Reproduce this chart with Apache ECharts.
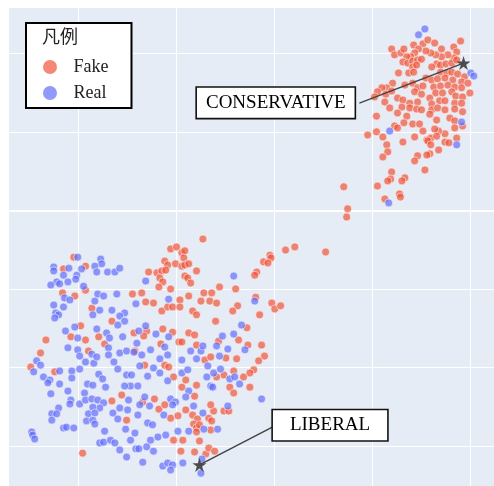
<!DOCTYPE html>
<html>
<head>
<meta charset="utf-8">
<script src="https://cdn.jsdelivr.net/npm/echarts@6/dist/echarts.min.js"></script>
<style>
  html, body { margin: 0; padding: 0; background: #fff; }
  #chart { width: 494px; height: 486px; }
</style>
</head>
<body>
<div id="chart"></div>
<script>
// 2-D embedding of news articles, coloured by label
const fakePoints = [
  [84.0,41.1],[84.6,39.6],[85.9,40.1],[86.5,41.1],[88.5,42.1],[90.4,42.4],[91.4,43.4],[92.8,42.6],[94.2,41.1],[96.7,41.6],
  [98.1,43.1],[97.3,40.3],[96.7,38.8],[95.5,39.6],[94.2,39.1],[93.0,39.6],[92.0,40.1],[91.0,40.6],[89.5,41.1],[88.7,40.1],
  [87.9,39.1],[87.1,39.1],[86.3,37.8],[87.3,37.5],[88.3,38.0],[89.3,38.3],[90.1,38.5],[88.3,36.5],[89.1,37.0],[87.5,35.0],
  [88.5,35.2],[85.4,35.0],[93.2,37.3],[94.0,37.0],[95.1,37.3],[96.3,37.5],[97.3,38.3],[92.2,36.5],[94.0,35.2],[95.3,35.0],
  [96.3,35.2],[97.5,34.7],[98.9,34.0],[91.0,33.7],[92.2,33.2],[93.4,33.5],[94.9,33.7],[96.5,33.2],[98.3,32.7],[99.6,32.4],
  [84.2,32.4],[83.0,31.2],[82.0,31.2],[81.1,30.2],[82.8,29.6],[84.0,30.4],[86.7,31.9],[88.3,32.4],[89.3,31.2],[90.4,31.7],
  [92.6,31.4],[94.0,31.7],[95.5,31.9],[96.9,31.4],[98.3,31.2],[88.7,30.2],[90.1,29.6],[93.0,29.9],[94.4,29.9],[96.3,30.2],
  [97.1,29.1],[98.5,28.9],[100.0,29.9],[80.5,28.9],[82.6,27.6],[85.2,28.6],[86.3,28.1],[87.7,27.3],[89.3,27.6],[91.8,28.6],
  [92.2,27.1],[93.8,27.9],[94.9,27.9],[96.9,27.3],[98.3,27.3],[83.6,26.1],[86.1,26.3],[87.7,26.1],[89.1,25.8],[90.1,25.6],
  [92.2,25.6],[93.4,26.1],[94.9,25.6],[96.9,25.8],[98.5,25.1],[80.9,24.0],[85.2,24.8],[87.1,24.0],[91.8,24.5],[93.2,23.0],
  [95.9,23.5],[96.9,22.8],[98.5,21.5],[96.9,21.0],[94.9,19.5],[93.6,20.2],[92.8,20.7],[90.4,20.2],[86.5,22.3],[88.3,22.0],
  [89.7,22.0],[84.6,21.5],[85.2,21.0],[80.9,20.0],[82.2,18.7],[79.1,19.2],[88.7,18.7],[91.2,17.9],[92.0,18.4],[93.2,18.9],
  [91.4,17.7],[86.3,17.4],[83.0,16.7],[83.2,14.9],[82.2,13.6],[92.0,16.7],[94.9,17.4],[95.7,17.2],[93.6,15.4],[91.8,14.4],
  [91.2,14.1],[89.3,13.9],[88.7,12.6],[90.8,10.3],[84.0,9.8],[83.8,8.0],[83.2,7.5],[86.7,8.3],[86.1,7.5],[81.1,6.2],
  [85.6,4.2],[85.8,3.4],[82.6,2.9],[74.2,6.0],[75.0,0.4],[74.8,-1.7],[97.3,18.4],
  [62.3,-10.1],[64.2,-9.3],[70.5,-10.6],[59.1,-11.4],[59.3,-12.1],[57.8,-13.1],[58.7,-13.4],[56.4,-15.7],[56.0,-16.5],[56.2,-22.1],
  [59.5,-23.6],[60.1,-25.1],[61.3,-24.3],[57.0,-26.6],[57.4,-34.3],[58.0,-37.1],[56.8,-38.3],[55.8,-40.6],[55.0,-41.4],[55.0,-45.0],
  [45.4,-7.3],[38.8,-9.8],[40.0,-9.3],[41.1,-10.8],[41.7,-10.3],[41.5,-12.1],[37.6,-12.9],[38.2,-13.9],[39.8,-13.6],[41.1,-14.2],
  [41.7,-13.9],[42.5,-13.6],[34.3,-15.7],[36.0,-15.9],[37.0,-15.4],[37.8,-15.2],[36.6,-17.2],[37.2,-18.2],[36.4,-19.5],[41.7,-16.7],
  [42.3,-17.2],[42.9,-18.5],[44.1,-15.4],[32.9,-21.0],[33.7,-23.3],[35.3,-23.6],[38.8,-20.0],[37.0,-25.6],[38.2,-24.6],[39.2,-24.6],
  [40.7,-22.8],[40.7,-24.6],[42.5,-21.8],[45.6,-21.0],[47.2,-21.0],[45.0,-23.1],[46.8,-23.1],[48.2,-23.6],[48.8,-19.5],[52.1,-20.0],
  [52.5,-24.3],[51.5,-25.6],[43.3,-25.6],[44.1,-26.6],[48.0,-28.2],[37.2,-30.2],[39.2,-31.0],[33.9,-30.7],[33.3,-32.0],[42.5,-31.2],
  [43.7,-31.7],[40.5,-33.5],[41.1,-33.5],[36.8,-34.0],[44.1,-34.3],[48.6,-33.3],[52.7,-33.0],[31.5,-35.8],[54.4,-29.9],[54.6,-34.3],
  [19.0,-11.9],[16.9,-14.9],[21.4,-14.2],[16.7,-21.0],[19.2,-21.8],[21.4,-20.3],[31.0,-21.3],[22.7,-24.9],[26.8,-28.2],[20.4,-29.4],
  [18.4,-32.2],[13.3,-33.0],[21.4,-33.0],[24.1,-32.2],[25.3,-34.0],[31.3,-31.2],[22.0,-35.8],[12.2,-36.3],
  [10.2,-39.9],[15.1,-41.1],[26.8,-48.5],[28.8,-47.0],[29.8,-53.4],[20.8,-61.8],
  [33.5,-39.4],[37.6,-39.4],[38.4,-39.9],[39.4,-42.4],[41.9,-43.2],[41.1,-45.0],[44.1,-44.5],[43.7,-47.3],[45.8,-38.1],[47.0,-37.3],
  [50.1,-37.6],[52.3,-37.8],[53.7,-42.4],[51.7,-40.9],[49.7,-41.9],[48.2,-42.4],[50.9,-45.0],[51.7,-46.5],[33.1,-48.8],[35.5,-48.0],
  [36.4,-50.6],[37.6,-49.5],[38.8,-52.9],[40.3,-52.3],[41.9,-50.8],[43.3,-52.1],[44.3,-53.1],[43.5,-54.4],[44.1,-55.4],[44.1,-56.4],
  [44.7,-54.6],[46.6,-52.9],[47.2,-53.6],[47.0,-55.9],[47.6,-51.1],[47.0,-49.5],[49.7,-51.1],[50.7,-51.1],[39.4,-58.5],[41.3,-58.5],
  [44.7,-58.7],[40.9,-61.3],[43.7,-61.5],[46.0,-62.0],[46.6,-60.5],[47.8,-61.3]
];

const realPoints = [
  [89.5,44.7],[90.8,46.2],[100.2,35.0],[100.8,34.2],[83.6,20.2],[97.3,16.7],[98.3,22.5],[83.4,1.9],
  [56.0,-23.1],[57.4,-48.0],
  [19.8,-11.9],[24.5,-12.4],[24.7,-13.6],[23.3,-14.2],[14.9,-14.4],[14.9,-15.4],[18.0,-14.7],[20.6,-14.9],[23.7,-15.7],[25.9,-15.7],
  [27.4,-15.7],[28.4,-14.7],[16.9,-16.5],[19.6,-16.5],[19.4,-17.5],[15.5,-18.2],[14.3,-19.0],[16.1,-18.7],[17.8,-18.2],[21.0,-19.3],
  [23.9,-21.3],[25.1,-21.8],[27.8,-21.3],[17.1,-22.3],[18.2,-22.8],[23.3,-23.1],[14.9,-24.1],[16.9,-24.6],[24.3,-25.4],[26.8,-25.4],
  [29.4,-26.1],[28.4,-26.9],[22.9,-26.6],[15.3,-26.1],[15.9,-26.6],[15.1,-27.4],[29.4,-28.2],[28.0,-29.2],[31.7,-23.8],[17.3,-30.7],
  [19.2,-29.7],[23.7,-30.2],[25.7,-31.2],[26.3,-32.5],[29.0,-32.2],[19.8,-32.5],[17.8,-35.0],[19.8,-35.5],[22.7,-36.6],[26.1,-35.0],
  [28.4,-36.3],[29.8,-35.8],[31.3,-36.1],
  [11.4,-38.3],[12.2,-39.4],[10.8,-41.1],[12.8,-42.4],[14.1,-43.2],[13.7,-43.9],[16.1,-40.9],[18.6,-40.9],[18.6,-42.7],[16.1,-44.2],
  [20.2,-40.4],[20.2,-37.1],[21.4,-38.6],[23.1,-38.9],[23.7,-37.3],[26.1,-36.8],[27.2,-38.6],[28.0,-40.4],[29.8,-41.9],[30.8,-41.9],
  [24.1,-41.7],[24.9,-42.9],[25.5,-45.0],[21.8,-44.2],[22.9,-44.5],[17.8,-46.0],[14.3,-46.7],[21.2,-46.5],[18.4,-48.3],[18.2,-49.3],
  [20.2,-49.3],[21.4,-48.3],[22.7,-48.0],[23.9,-48.3],[25.1,-49.0],[24.3,-50.3],[22.9,-50.1],[22.0,-51.8],[23.3,-51.6],[21.6,-53.6],
  [22.9,-53.4],[23.3,-54.4],[15.9,-50.3],[14.5,-51.8],[15.5,-51.8],[14.5,-53.4],[27.0,-51.6],[28.0,-53.1],[28.4,-50.3],[30.0,-50.8],
  [30.2,-48.3],[30.6,-44.7],[29.4,-44.7],[32.1,-44.7],[32.1,-52.1],[29.6,-55.7],[31.5,-56.7],[16.9,-55.4],[17.5,-55.2],[19.0,-55.4],
  [10.4,-56.4],[10.6,-57.2],[11.0,-58.2],[25.3,-56.2],[24.3,-59.2],[25.1,-59.0],[26.5,-58.5],[27.4,-59.2],[28.4,-61.0],[29.8,-62.8],
  [30.6,-58.5],
  [33.7,-18.0],[38.4,-22.6],[51.7,-16.7],[33.7,-29.4],[32.3,-30.7],[35.8,-31.5],[38.4,-32.2],[37.6,-34.8],[34.7,-35.5],[38.2,-36.8],
  [42.9,-35.8],[45.0,-35.8],[45.4,-34.5],[48.2,-34.5],[50.5,-35.3],[54.0,-35.5],[49.4,-32.0],[51.7,-31.5],[53.3,-29.2],[31.9,-33.8],
  [32.9,-36.8],[36.6,-37.8],[41.1,-38.1],[44.1,-37.8],[48.8,-37.1],[32.5,-39.6],[35.3,-40.1],[36.6,-41.4],[34.1,-42.2],[38.2,-43.4],
  [41.1,-41.4],[42.3,-40.6],[46.4,-39.6],[46.2,-42.4],[47.6,-41.4],[49.0,-40.4],[50.9,-42.9],[51.9,-42.4],[52.9,-44.2],[47.0,-44.7],
  [47.4,-45.0],[42.5,-46.0],[41.9,-47.5],[38.8,-48.0],[39.8,-48.8],[39.2,-49.5],[33.5,-47.5],[32.5,-49.5],[34.5,-49.8],[37.4,-52.1],
  [43.5,-49.8],[45.4,-51.6],[45.6,-55.7],[48.4,-55.7],[50.5,-49.8],[34.1,-54.1],[35.1,-54.6],[40.3,-56.2],[42.5,-56.2],[37.8,-57.2],
  [36.2,-57.7],[34.7,-58.5],[31.7,-60.7],[32.3,-60.7],[33.9,-60.2],[35.3,-61.3],[33.1,-64.1],[37.2,-65.1],[38.2,-64.3],[39.2,-64.8],
  [38.8,-66.1],[41.3,-64.3],[45.2,-63.3],[45.0,-66.9]
];

// Reference articles marked with a star, their caption boxes and the leader line starts
const noteNames = ['CONSERVATIVE', 'LIBERAL'];
const starPoints = [[98.7, 37.5], [44.7, -64.8]];
const noteBoxes = [[60.3, 27.4], [71.4, -54.7]];
const noteLineStarts = [[77.4, 27.3], [59.7, -55.1]];

// Grid values (no tick labels are drawn)
const xGrid = [20, 40, 60, 80, 100];
const yGrid = [40, 20, 0, -20, -40, -60];

const seriesNames = ['Fake', 'Real'];
const legendTitle = '凡例';

const SERIF = "'Liberation Serif', 'Times New Roman', 'Noto Sans CJK JP', serif";
const STAR = 'path://M50,0 L61.2,34.5 L97.6,34.5 L68.2,55.9 L79.4,90.5 L50,69.1 L20.6,90.5 L31.8,55.9 L2.4,34.5 L38.8,34.5 Z';

const chart = echarts.init(document.getElementById('chart'), null, { renderer: 'canvas' });

const gridLines = [
  ...xGrid.map(v => ({ xAxis: v, lineStyle: { width: 1 } })),
  ...yGrid.map(v => ({ yAxis: v, lineStyle: { width: v === 0 ? 2 : 1 } }))
];

chart.setOption({
  animation: false,
  backgroundColor: '#ffffff',
  title: {
    text: legendTitle,
    left: 42,
    top: 29,
    padding: 0,
    textStyle: { fontFamily: SERIF, fontSize: 18, fontWeight: 'normal', color: '#222', lineHeight: 18 }
  },
  grid: {
    left: 9, top: 8, right: 0, bottom: 0,
    show: true, backgroundColor: '#E5ECF6', borderWidth: 0
  },
  xAxis: {
    type: 'value', min: 5.75, max: 104.93,
    axisLine: { show: false }, axisTick: { show: false },
    axisLabel: { show: false }, splitLine: { show: false }
  },
  yAxis: {
    type: 'value', min: -70.17, max: 51.53,
    axisLine: { show: false }, axisTick: { show: false },
    axisLabel: { show: false }, splitLine: { show: false }
  },
  legend: {
    data: seriesNames,
    orient: 'vertical',
    left: 26, top: 23,
    padding: [35, 23, 6, 17],
    itemWidth: 37, itemHeight: 14, itemGap: 8,
    icon: 'circle',
    backgroundColor: '#ffffff',
    borderColor: '#000000', borderWidth: 2,
    itemStyle: { borderWidth: 0 },
    textStyle: { fontFamily: SERIF, fontSize: 18, color: '#222', lineHeight: 18 }
  },
  series: [
    {
      name: 'grid', type: 'scatter', data: [], silent: true, z: 1,
      markLine: {
        silent: true, z: 1, symbol: ['none', 'none'],
        label: { show: false },
        lineStyle: { color: '#ffffff', type: 'solid', opacity: 1 },
        emphasis: { disabled: true },
        data: gridLines
      }
    },
    {
      name: 'Fake', type: 'scatter', data: fakePoints, symbolSize: 8, z: 2,
      itemStyle: { color: '#EF553B', opacity: 0.7, borderColor: '#ffffff', borderWidth: 0.8 }
    },
    {
      name: 'Real', type: 'scatter', data: realPoints, symbolSize: 8, z: 2,
      itemStyle: { color: '#636EFA', opacity: 0.7, borderColor: '#ffffff', borderWidth: 0.8 }
    },
    {
      name: 'links', type: 'lines', coordinateSystem: 'cartesian2d', z: 3, silent: true,
      lineStyle: { color: '#444444', width: 1.5, opacity: 1, curveness: 0 },
      data: noteLineStarts.map((p, i) => ({ coords: [p, starPoints[i]] }))
    },
    {
      name: 'stars', type: 'scatter', symbol: STAR, symbolSize: 14, z: 4, silent: true,
      itemStyle: { color: '#454545', opacity: 0.95 },
      data: starPoints
    },
    {
      name: 'notes', type: 'scatter', symbolSize: 1, z: 5, silent: true,
      itemStyle: { color: 'transparent' },
      label: {
        show: true, position: 'inside', opacity: 1,
        formatter: p => p.name,
        fontFamily: SERIF, fontSize: 19, lineHeight: 19, color: '#000000',
        textBorderWidth: 0,
        backgroundColor: '#ffffff', borderColor: '#111111', borderWidth: 1.6
      },
      data: noteNames.map((n, i) => ({
        name: n,
        value: noteBoxes[i],
        label: { padding: i === 0 ? [5.5, 9, 5.5, 9] : [5.5, 17, 5.5, 17] }
      }))
    }
  ]
});
</script>
</body>
</html>
